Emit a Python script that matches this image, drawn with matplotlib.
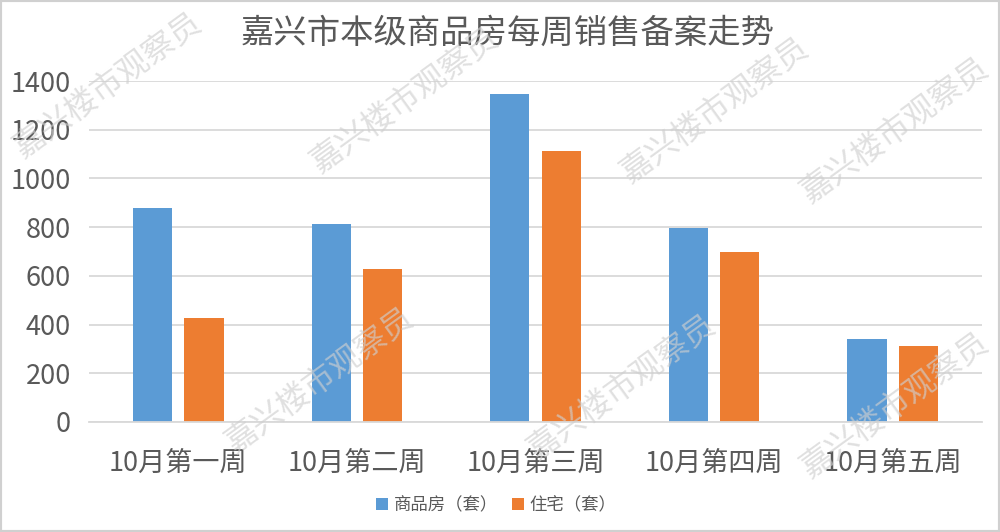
import matplotlib
matplotlib.use("Agg")
import matplotlib.pyplot as plt
import numpy as np
from matplotlib.patches import Rectangle

plt.rcParams['font.family'] = ['Noto Sans CJK SC', 'DejaVu Sans']

categories = ["10月第一周", "10月第二周", "10月第三周", "10月第四周", "10月第五周"]
series_names = ["商品房（套）", "住宅（套）"]
commercial = [877, 814, 1346, 797, 339]
residential = [429, 630, 1114, 699, 311]
yticks = [0, 200, 400, 600, 800, 1000, 1200, 1400]
title = "嘉兴市本级商品房每周销售备案走势"
watermark = "嘉兴楼市观察员"

BLUE = "#5B9BD5"
ORANGE = "#ED7D31"
TXT = "#595959"
GRID = "#D9D9D9"

fig = plt.figure(figsize=(10, 5.32), dpi=100)
ax = fig.add_axes([0.089, 1 - 422 / 532, 0.982 - 0.089, (422 - 81) / 532])

x = np.arange(len(categories))
w = 0.22
off = 0.144
ax.bar(x - off, commercial, width=w, color=BLUE, label=series_names[0], zorder=2)
ax.bar(x + off, residential, width=w, color=ORANGE, label=series_names[1], zorder=2)

ax.set_xlim(-0.5, len(categories) - 0.5)
ax.set_ylim(0, 1400)
ax.set_yticks(yticks)
ax.set_yticklabels([str(v) for v in yticks])
ax.set_xticks(x)
ax.set_xticklabels(categories)
ax.tick_params(axis='y', length=0, pad=13, labelsize=19.5, labelcolor=TXT)
ax.tick_params(axis='x', length=0, pad=20, labelsize=19.5, labelcolor=TXT)
for t in ax.get_xticklabels() + ax.get_yticklabels():
    t.set_fontweight('light')
ax.grid(axis='y', color=GRID, linewidth=1.3, zorder=0)
for s in ['top', 'right', 'left']:
    ax.spines[s].set_visible(False)
ax.spines['bottom'].set_color(GRID)
ax.spines['bottom'].set_linewidth(1.3)

fig.text(0.508, 1 - 33 / 532, title, ha='center', va='center', fontsize=24, color=TXT)

leg = fig.legend(loc='center', bbox_to_anchor=(0.496, 1 - 505 / 532), ncol=2, frameon=False,
                 fontsize=12.5, handlelength=0.7, handleheight=0.7, handletextpad=0.3,
                 columnspacing=0.8)
for t in leg.get_texts():
    t.set_color(TXT)

# watermarks
wm_pos = [(108, 85), (405, 100), (715, 110), (895, 130), (320, 380), (622, 387), (895, 405)]
for (px, py) in wm_pos:
    fig.text(px / 1000, 1 - py / 532, watermark, ha='center', va='center', rotation=36,
             fontsize=23, color='#cfcfcf', alpha=0.65, zorder=10)

# figure border
fig.patches.append(Rectangle((0, 0), 1, 1, transform=fig.transFigure, fill=False,
                             edgecolor='#d0d0d0', linewidth=3))

fig.savefig("out.png", dpi=100)
